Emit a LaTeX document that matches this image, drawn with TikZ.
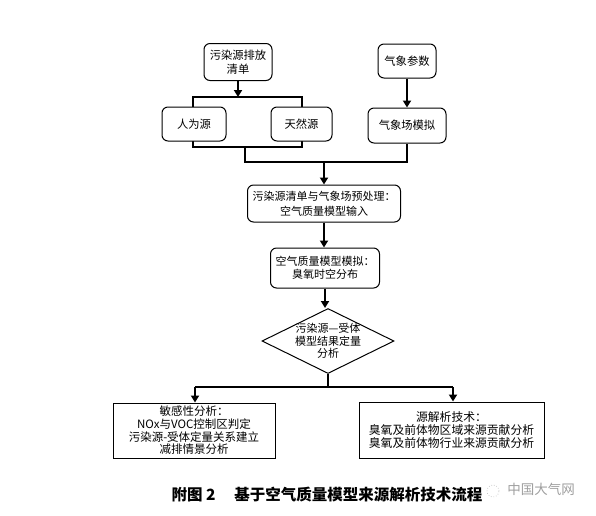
\documentclass[tikz,border=0pt]{standalone}
\usepackage{fontspec}
\setmainfont{Noto Sans CJK SC}
\usetikzlibrary{shapes.geometric,arrows.meta}
\begin{document}
\begin{tikzpicture}[x=1pt,y=-1pt,
  txt/.style={font=\fontsize{11.3}{13.5}\selectfont, align=center, inner sep=0pt},
  rbox/.style={txt, draw, line width=1pt, rounded corners=6pt, fill=white},
  sbox/.style={txt, draw, line width=1pt, fill=white},
  conn/.style={line width=2.4pt},
  arr/.style={line width=2.4pt, -{Triangle[length=7pt,width=8pt]}},
]
\useasboundingbox (0,0) rectangle (596,515);
\fill[white] (0,0) rectangle (596,515);

% bracket frame behind the two source boxes
\coordinate (b1) at (193,97);
\coordinate (b2) at (302,147);
\draw[conn] (b1) rectangle (b2);

\node[rbox, minimum width=68pt, minimum height=37pt] (src) at (238,62) {污染源排放\\清单};
\node[rbox, minimum width=58pt, minimum height=34pt] (met) at (407,61) {气象参数};
\node[rbox, minimum width=64pt, minimum height=34pt] (anth) at (194,124) {人为源};
\node[rbox, minimum width=61pt, minimum height=34pt] (nat) at (301.5,124) {天然源};
\node[rbox, minimum width=78pt, minimum height=35pt] (metsim) at (407,125.5) {气象场模拟};

\node[rbox, minimum width=153pt, minimum height=37pt, font=\fontsize{11}{15}\selectfont] (pre) at (324,203.5) {污染源清单与气象场预处理：\\空气质量模型输入};
\node[rbox, minimum width=109pt, minimum height=40pt, font=\fontsize{11}{13.5}\selectfont] (aq) at (325,268) {空气质量模型模拟：\\臭氧时空分布};
\node[diamond, draw, line width=1pt, fill=white, minimum width=132pt, minimum height=65pt, inner sep=0pt] (dia) at (328,341) {};
\node[txt, font=\fontsize{11}{12.8}\selectfont] (diat) at (dia.center) {污染源—受体\\模型结果定量\\分析};

\node[sbox, minimum width=162pt, minimum height=55pt, font=\fontsize{11.5}{12.6}\selectfont] (sens) at (194,430.5) {敏感性分析：\\NOx与VOC控制区判定\\污染源-受体定量关系建立\\减排情景分析};
\node[sbox, minimum width=185pt, minimum height=56pt, font=\fontsize{11.8}{13.2}\selectfont] (sa) at (451.5,430) {源解析技术：\\臭氧及前体物区域来源贡献分析\\臭氧及前体物行业来源贡献分析};

% connectors
\coordinate (btop) at (238,97);
\draw[arr] (src.south) -- (btop);
\draw[arr] (met.south) -- (metsim.north);

\coordinate (m1) at (245,147);
\coordinate (m2) at (245,162);
\coordinate (m3) at (407,162);
\coordinate (m4) at (324,162);
\draw[conn] (m1) -- (m2) -- (m3) -- (metsim.south);
\draw[arr] (m4) -- (pre.north);
\draw[arr] (pre.south) -- (pre.south|-aq.north);
\draw[arr] (aq.south) -- (aq.south|-dia.north);

\coordinate (d1) at (328,387);
\coordinate (dl) at (195,387);
\coordinate (dr) at (453,387);
\draw[conn] (dia.south) -- (d1);
\draw[conn] (dl) -- (dr);
\draw[arr] (dl) -- (dl|-sens.north);
\draw[arr] (dr) -- (dr|-sa.north);

% caption and watermark
\node[font=\bfseries\fontsize{15.5}{15.5}\selectfont, inner sep=0pt] (cap) at (327,495) {附图 2\hspace{1.2em}基于空气质量模型来源解析技术流程};
\draw[gray!60, line width=0.6pt, dotted] (493,491) circle (6pt);
\node[font=\fontsize{13.5}{13.5}\selectfont, text=gray!75, inner sep=0pt] (wm) at (541,489) {中国大气网};
\end{tikzpicture}
\end{document}
